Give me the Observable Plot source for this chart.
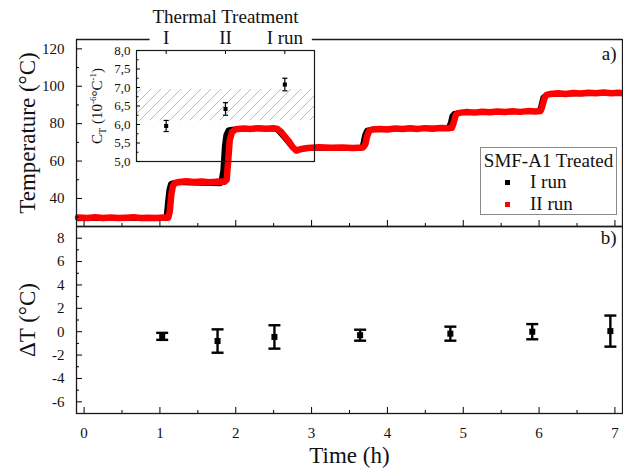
<!DOCTYPE html>
<html><head><meta charset="utf-8">
<script src="https://cdn.jsdelivr.net/npm/d3@7"></script>
<script src="https://cdn.jsdelivr.net/npm/@observablehq/plot@0.6"></script>
<style>
body{margin:0;background:#fff;}
#chart{position:relative;width:623px;height:468px;font-family:'Liberation Serif','Times New Roman',serif;}
#chart > svg, #chart > div {position:absolute;}
#chart svg, #chart svg text, #chart svg g {font-family:'Liberation Serif','Times New Roman',serif !important;}
#chart svg {background:transparent !important; overflow:visible !important; max-width:none !important;}
</style></head><body><div id="chart"></div>
<script>
// ---------- data ----------
const run1Time = [-0.08,0.1,0.3,0.5,0.7,0.9,1.08,1.1,1.12,1.14,1.17,1.25,1.4,1.55,1.7,1.8,1.83,1.85,1.87,1.9,1.95,2.1,2.3,2.5,2.55,2.65,2.74,2.8,2.9,3.1,3.3,3.5,3.66,3.68,3.7,3.73,3.8,4.0,4.2,4.4,4.6,4.8,4.83,4.85,4.88,4.95,5.2,5.5,5.8,6.0,6.02,6.05,6.1,6.4,6.7,7.1];
const run1Temp = [29.2,29.4,29.3,29.5,29.3,29.4,29.4,38,45,47.8,48.4,48.5,48.3,48.1,48.0,47.9,55,68,74,76.6,77.0,77.2,77.3,77.2,76.5,72,67.5,65.6,66.8,67.0,66.9,67.0,67.0,70,74,76.5,77.0,77.1,77.3,77.4,77.5,77.6,80.5,84,85.5,85.9,86.1,86.3,86.5,86.6,89,94,95.6,95.9,96.1,96.2];

const run2Time = [-0.08,0.05,0.15,0.25,0.35,0.45,0.55,0.65,0.75,0.85,0.95,1.05,1.11,1.13,1.15,1.17,1.2,1.25,1.35,1.45,1.55,1.65,1.75,1.85,1.88,1.9,1.92,1.95,2.0,2.1,2.2,2.3,2.4,2.5,2.55,2.6,2.65,2.7,2.75,2.8,2.85,2.95,3.1,3.25,3.4,3.55,3.68,3.71,3.73,3.76,3.8,3.9,4.0,4.1,4.2,4.3,4.4,4.5,4.6,4.7,4.8,4.85,4.87,4.9,4.93,4.97,5.05,5.15,5.25,5.35,5.45,5.55,5.65,5.75,5.85,5.95,6.02,6.04,6.07,6.1,6.15,6.25,6.35,6.45,6.55,6.65,6.75,6.85,6.95,7.05,7.1];
const run2Temp = [29.8,29.5,29.9,29.6,29.8,29.5,29.7,29.9,29.6,29.7,29.5,29.8,29.7,33,42,46.5,48.3,48.8,49.2,48.8,49.1,48.7,49.0,48.9,50,60,71,75.5,77.0,77.4,77.2,77.6,77.3,77.5,77.2,75.5,73,70.5,67.5,65.6,66.3,67.0,67.4,67.1,67.3,67.0,67.3,69,73,76.2,76.9,77.2,76.9,77.4,77.1,77.5,77.2,77.6,77.3,77.7,77.5,77.8,80,84.5,85.6,85.9,86.2,85.9,86.4,86.1,86.5,86.2,86.6,86.3,86.7,86.5,86.8,89,93.5,95.4,95.9,96.3,95.9,96.4,96.1,96.5,96.2,96.6,96.3,96.5,96.3];

const dtTime  = [1.03, 1.76, 2.51, 3.64, 4.83, 5.91, 6.94];
const dtValue = [-0.4, -0.8, -0.45, -0.3, -0.17, 0.0, 0.05];
const dtError = [0.3, 1.0, 1.0, 0.47, 0.6, 0.65, 1.33];

const ctLabels = ["I", "II", "I run"];
const ctValue  = [5.96, 6.42, 7.08];
const ctError  = [0.15, 0.17, 0.17];
const hatchLo = 6.1, hatchHi = 6.95;

const seriesNames  = ["I run", "II run"];
const seriesColors = ["#000000", "#ff0000"];
const legendTitle  = "SMF-A1 Treated";

const xDomain = [-0.1, 7.1];
const xMajor = [0,1,2,3,4,5,6,7];
const xMinor = [0.5,1.5,2.5,3.5,4.5,5.5,6.5];
const tempDomain = [25, 125];
const tempMajor = [40,60,80,100,120];
const tempMinor = [30,50,70,90,110];
const dtDomain = [-7, 9];
const dtMajor = [-6,-4,-2,0,2,4,6,8];
const dtMinor = [-5,-3,-1,1,3,5,7];
const ctDomain = [5, 8];
const ctMajor = [5,5.5,6,6.5,7,7.5,8];
const ctMinor = [5.25,5.75,6.25,6.75,7.25,7.75];
const topFrameGap = [0.87, 3.01];
const ctAxisTitle = "CT (10-6°C-1)";

// ---------- build ----------
const FONT = "Liberation Serif";
const chart = document.getElementById("chart");
const run1 = run1Time.map((t, i) => ({t, v: run1Temp[i]}));
const run2 = run2Time.map((t, i) => ({t, v: run2Temp[i]}));
const dt = dtTime.map((t, i) => ({t, v: dtValue[i], lo: dtValue[i] - dtError[i], hi: dtValue[i] + dtError[i]}));
const ct = ctLabels.map((k, i) => ({i: i + 1, k, v: ctValue[i], lo: ctValue[i] - ctError[i], hi: ctValue[i] + ctError[i]}));
const frameSegs = [{x1: xDomain[0], x2: topFrameGap[0]}, {x1: topFrameGap[1], x2: xDomain[1]}];
const cap = {draw(ctx, size) { const w = Math.sqrt(size / Math.PI); ctx.moveTo(-w, 0); ctx.lineTo(w, 0); }};
const style = {fontFamily: FONT, fontSize: "15px", background: "transparent", overflow: "visible"};
const noText = () => "";
const FR = "#1a1a1a";
const T = {textAnchor: "middle", lineAnchor: "middle", fill: "#111", fontFamily: FONT};
const A = {fontFamily: FONT, fill: "#111"};

const topPlot = Plot.plot({
  width: 623, height: 227, marginTop: 39, marginBottom: 1, marginLeft: 76, marginRight: 1,
  style,
  x: {domain: xDomain}, y: {domain: tempDomain},
  marks: [
    Plot.line(run1, {x: "t", y: "v", stroke: seriesColors[0], strokeWidth: 5}),
    Plot.line(run2, {x: "t", y: "v", stroke: seriesColors[1], strokeWidth: 6.5}),
    Plot.ruleX(xDomain, {stroke: FR, strokeWidth: 1.3}),
    Plot.ruleY([tempDomain[0]], {stroke: FR, strokeWidth: 1.3}),
    Plot.ruleY(frameSegs, {y: tempDomain[1], x1: "x1", x2: "x2", stroke: FR, strokeWidth: 1.3}),
    Plot.axisY({ticks: tempMajor, tickSize: 0, tickPadding: 12, label: null, fontSize: 15, ...A}),
    Plot.axisY({ticks: tempMajor, tickSize: 6, dx: 6, tickFormat: noText, label: null}),
    Plot.axisY({ticks: tempMinor, tickSize: 3, dx: 3, tickFormat: noText, label: null}),
    Plot.axisX({ticks: xMajor, tickSize: 6, dy: -6, tickFormat: noText, label: null}),
    Plot.axisX({ticks: xMinor, tickSize: 3, dy: -3, tickFormat: noText, label: null}),
    Plot.text(["Temperature (°C)"], {frameAnchor: "left", dx: -49, rotate: -90, fontSize: 23, ...T}),
    Plot.text(["a)"], {frameAnchor: "top-right", dx: -6, dy: 14, fontSize: 19, ...T, textAnchor: "end"})
  ]
});
topPlot.style.left = "0px"; topPlot.style.top = "0px";
chart.appendChild(topPlot);

const bottomPlot = Plot.plot({
  width: 623, height: 252, marginTop: 10, marginBottom: 55, marginLeft: 76, marginRight: 1,
  style,
  x: {domain: xDomain}, y: {domain: dtDomain},
  marks: [
    Plot.frame({stroke: FR, strokeWidth: 1.3}),
    Plot.axisY({ticks: dtMajor, tickSize: 0, tickPadding: 12, label: null, fontSize: 15, ...A,
      tickFormat: d => d < 0 ? "-" + (-d) : String(d)}),
    Plot.axisY({ticks: dtMajor, tickSize: 6, dx: 6, tickFormat: noText, label: null}),
    Plot.axisY({ticks: dtMinor, tickSize: 3, dx: 3, tickFormat: noText, label: null}),
    Plot.axisX({ticks: xMajor, tickSize: 0, tickPadding: 14, label: null, fontSize: 15, ...A}),
    Plot.axisX({ticks: xMajor, tickSize: 6, dy: -6, tickFormat: noText, label: null}),
    Plot.axisX({ticks: xMinor, tickSize: 3, dy: -3, tickFormat: noText, label: null}),
    Plot.ruleX(dt, {x: "t", y1: "lo", y2: "hi", strokeWidth: 2.4}),
    Plot.dot(dt, {x: "t", y: "hi", symbol: cap, r: 6, stroke: "black", fill: "none", strokeWidth: 2.4}),
    Plot.dot(dt, {x: "t", y: "lo", symbol: cap, r: 6, stroke: "black", fill: "none", strokeWidth: 2.4}),
    Plot.dot(dt, {x: "t", y: "v", symbol: "square", r: 3.4, fill: "black", stroke: "none"}),
    Plot.text(["ΔT (°C)"], {frameAnchor: "left", dx: -49, rotate: -90, fontSize: 23, ...T}),
    Plot.text(["Time (h)"], {frameAnchor: "bottom", dy: 42, fontSize: 23, ...T}),
    Plot.text(["b)"], {frameAnchor: "top-right", dx: -6, dy: 11, fontSize: 19, ...T, textAnchor: "end"})
  ]
});
bottomPlot.style.left = "0px"; bottomPlot.style.top = "216px";
chart.appendChild(bottomPlot);

const inset = Plot.plot({
  width: 330, height: 170, marginLeft: 136, marginRight: 16, marginTop: 50, marginBottom: 9,
  style,
  x: {domain: [0.5, 3.5]}, y: {domain: ctDomain},
  marks: [
    Plot.rect([{lo: hatchLo, hi: hatchHi}], {x1: 0.5, x2: 3.5, y1: "lo", y2: "hi", fill: "url(#hatch)"}),
    Plot.frame({stroke: FR, strokeWidth: 1.2}),
    Plot.axisY({ticks: ctMajor, tickSize: 0, tickPadding: 6, label: null, fontSize: 13, ...A,
      tickFormat: d => d.toFixed(1).replace(".", ",")}),
    Plot.axisY({ticks: ctMajor, tickSize: 4, dx: 4, tickFormat: noText, label: null}),
    Plot.axisY({ticks: ctMinor, tickSize: 2.5, dx: 2.5, tickFormat: noText, label: null}),
    Plot.axisX({anchor: "top", ticks: [1, 2, 3], tickSize: 3, dy: 3, tickFormat: noText, label: null}),
    Plot.text(ct, {x: "i", text: "k", frameAnchor: "top", dy: -13, fontSize: 19, ...T}),
    Plot.text(["Thermal Treatment"], {frameAnchor: "top", dy: -34, fontSize: 19, ...T}),
    Plot.ruleX(ct, {x: "i", y1: "lo", y2: "hi", strokeWidth: 1.2}),
    Plot.dot(ct, {x: "i", y: "hi", symbol: cap, r: 2.6, stroke: "black", fill: "none", strokeWidth: 1.2}),
    Plot.dot(ct, {x: "i", y: "lo", symbol: cap, r: 2.6, stroke: "black", fill: "none", strokeWidth: 1.2}),
    Plot.dot(ct, {x: "i", y: "v", symbol: "square", r: 2.3, fill: "black", stroke: "none"}),
    Plot.text([ctAxisTitle], {frameAnchor: "left", dx: -39, rotate: -90, fontSize: 15, ...T})
  ]
});
inset.style.left = "0px"; inset.style.top = "0px";
d3.select(inset).insert("defs", ":first-child").html(
  '<pattern id="hatch" patternUnits="userSpaceOnUse" width="10" height="10">' +
  '<path d="M-2,2 L2,-2 M0,10 L10,0 M8,12 L12,8" stroke="#b3b3b3" stroke-width="0.9"/></pattern>');
d3.select(inset).selectAll("text").filter(function () { return this.textContent === ctAxisTitle; })
  .each(function () {
    const t = d3.select(this);
    t.text(null);
    t.append("tspan").text("C");
    t.append("tspan").attr("font-size", 10).attr("dy", 4).text("T");
    t.append("tspan").attr("dy", -4).text(" (10");
    t.append("tspan").attr("font-size", 9).attr("dy", -6).text("-6");
    t.append("tspan").attr("dy", 6).text("°C");
    t.append("tspan").attr("font-size", 9).attr("dy", -6).text("-1");
    t.append("tspan").attr("dy", 6).text(")");
  });
chart.appendChild(inset);

// legend
const leg = document.createElement("div");
leg.style.cssText = "left:480px;top:147px;width:135px;height:66px;border:1px solid #8a8a8a;background:#fff;font-size:19px;color:#111;";
const title = document.createElement("div");
title.textContent = legendTitle;
title.style.cssText = "position:absolute;left:0;width:135px;top:2px;text-align:center;white-space:nowrap;";
leg.appendChild(title);
seriesNames.forEach((name, i) => {
  const mk = document.createElement("div");
  mk.style.cssText = `position:absolute;left:24px;top:${32 + i * 22}px;width:5px;height:5px;background:${seriesColors[i]};`;
  const tx = document.createElement("div");
  tx.textContent = name;
  tx.style.cssText = `position:absolute;left:49px;top:${23 + i * 22}px;white-space:nowrap;`;
  leg.appendChild(mk); leg.appendChild(tx);
});
chart.appendChild(leg);
</script></body></html>
